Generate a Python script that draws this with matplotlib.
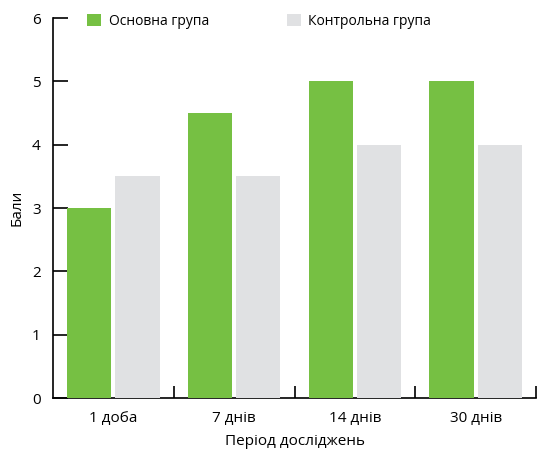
import matplotlib.pyplot as plt
import numpy as np

plt.rcParams['font.family'] = ['Open Sans', 'DejaVu Sans']

# дані
periods = ['1 доба', '7 днів', '14 днів', '30 днів']
main_group = [3, 4.5, 5, 5]
control_group = [3.5, 3.5, 4, 4]
series_names = ['Основна група', 'Контрольна група']

green = '#76c043'
grey = '#e0e1e3'

fig = plt.figure(figsize=(5.37, 4.53), dpi=100)
ax = fig.add_axes([0.0987, 0.1214, 0.8995, 0.8386])

x = np.arange(len(periods))
w = 0.365
ax.bar(x - 0.2, main_group, w, color=green, label=series_names[0], zorder=3)
ax.bar(x + 0.2, control_group, w, color=grey, label=series_names[1], zorder=3)

ax.set_xlim(-0.5, 3.5)
ax.set_ylim(0, 6)
ax.set_yticks(range(7))
ax.set_xticks(x)
ax.set_xticklabels(periods)
ax.set_xticks(x + 0.5, minor=True)

for s in ['top', 'right']:
    ax.spines[s].set_visible(False)
ax.spines['left'].set_linewidth(1.2)
ax.spines['bottom'].set_linewidth(1.2)

ax.tick_params(axis='y', direction='in', length=11, width=1.2, labelsize=11, pad=9)
ax.tick_params(axis='x', which='major', length=0, labelsize=11, pad=9)
ax.tick_params(axis='x', which='minor', direction='in', length=9, width=1.2)

ax.set_ylabel('Бали', fontsize=11, labelpad=5)
ax.set_xlabel('Період досліджень', fontsize=11, labelpad=6)

ax.legend(loc='upper left', bbox_to_anchor=(0.045, 1.045), ncol=2, frameon=False,
          fontsize=10, handlelength=1.0, handleheight=1.0, handletextpad=0.55,
          columnspacing=5.6)

fig.savefig('out.png', dpi=100)
